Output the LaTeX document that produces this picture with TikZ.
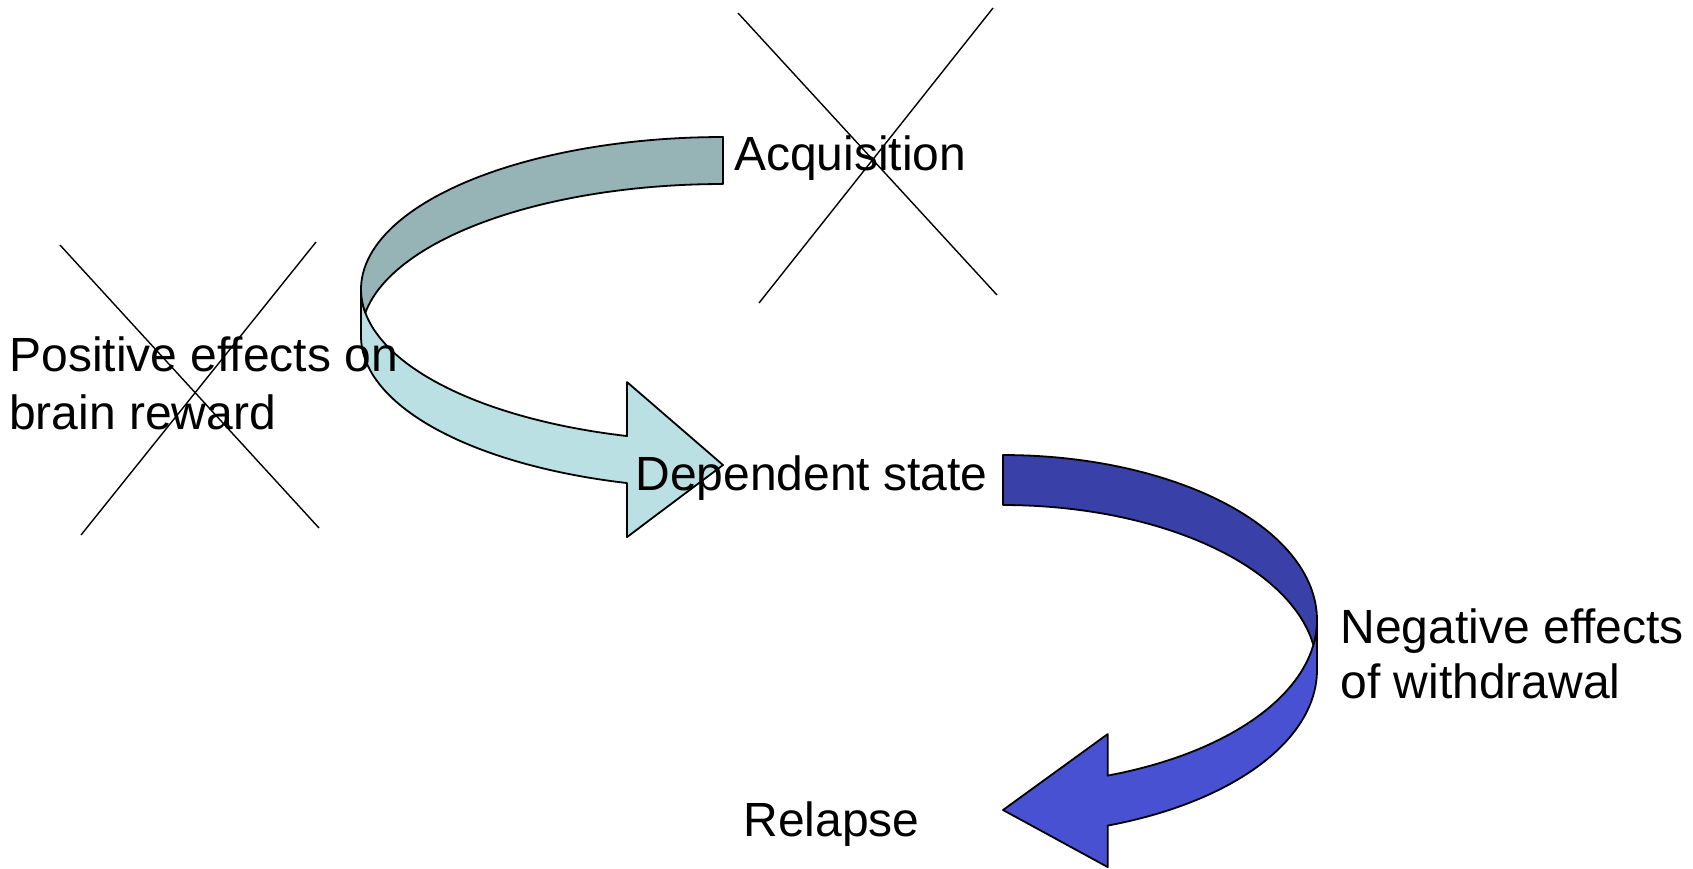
\documentclass[tikz,border=0pt]{standalone}
\usepackage{fontspec}
\setmainfont{Liberation Sans}
\definecolor{tealfront}{RGB}{187,224,227}
\definecolor{tealback}{RGB}{150,179,182}
\definecolor{bluefront}{RGB}{71,81,210}
\definecolor{blueback}{RGB}{57,64,167}
\begin{document}
\begin{tikzpicture}[x=1pt,y=-1pt,
  band/.style={draw=black, line width=1.8pt, line join=round},
  txt/.style={anchor=base west, inner sep=0pt, outer sep=0pt,
    font=\fontsize{48}{58}\selectfont, text=black},
  crossline/.style={draw=black, line width=1.4pt}]
\useasboundingbox (0,0) rectangle (1693,868);
\fill[white] (0,0) rectangle (1693,868);

% upper ribbon arrow, curving round on the left and pointing right
\path[band, fill=tealfront]
  plot[domain=180:105.38, samples=60, variable=\t]
    ({723+362*cos(\t)}, {289.25+152.25*sin(\t)})
  -- (627,382.05) -- (723,465) -- (627,537.05) -- (627,483.05)
  -- plot[domain=105.38:180, samples=60, variable=\t]
    ({723+362*cos(\t)}, {336.25+152.25*sin(\t)})
  -- cycle;
\path[band, fill=tealback]
  plot[domain=270:188.88, samples=60, variable=\t]
    ({723+362*cos(\t)}, {336.25+152.25*sin(\t)})
  -- plot[domain=171.12:270, samples=60, variable=\t]
    ({723+362*cos(\t)}, {289.25+152.25*sin(\t)})
  -- cycle;

% lower ribbon arrow, curving round on the right and pointing left
\path[band, fill=bluefront]
  plot[domain=0:70.52, samples=60, variable=\t]
    ({1003+314*cos(\t)}, {620+165*sin(\t)})
  -- (1107.7,734.06) -- (1003,810) -- (1107.7,867.06) -- (1107.7,825.56)
  -- plot[domain=70.52:0, samples=60, variable=\t]
    ({1003+314*cos(\t)}, {670+165*sin(\t)})
  -- cycle;
\path[band, fill=blueback]
  plot[domain=-90:-8.715, samples=60, variable=\t]
    ({1003+314*cos(\t)}, {670+165*sin(\t)})
  -- plot[domain=8.715:-90, samples=60, variable=\t]
    ({1003+314*cos(\t)}, {620+165*sin(\t)})
  -- cycle;

% labels
\node[txt] (acq) at (734,170) {Acquisition};
\node[txt] (pos1) at (9.3,371.7) {Positive effects on};
\node[txt] (pos2) at (9.3,429.3) {brain reward};
\node[txt] (dep) at (635.5,490.7) {Dependent state};
\node[txt] (neg1) at (1340.6,643.3) {Negative effects};
\node[txt] (neg2) at (1340.6,698.8) {of withdrawal};
\node[txt] (rel) at (743.5,836) {Relapse};

% crossed-out stages
\coordinate (a1) at (738,13);   \coordinate (a2) at (997,295);
\coordinate (a3) at (993,8);    \coordinate (a4) at (759,303);
\coordinate (p1) at (60,245);   \coordinate (p2) at (319,528);
\coordinate (p3) at (316,242);  \coordinate (p4) at (81,535);
\draw[crossline] (a1) -- (a2);
\draw[crossline] (a3) -- (a4);
\draw[crossline] (p1) -- (p2);
\draw[crossline] (p3) -- (p4);
\end{tikzpicture}
\end{document}
